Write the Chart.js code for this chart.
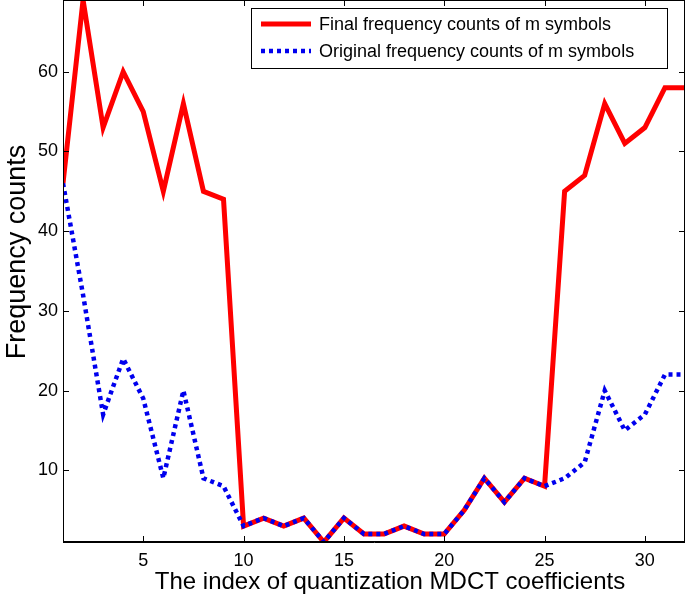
<!DOCTYPE html>
<html>
<head>
<meta charset="utf-8">
<script src="https://cdn.jsdelivr.net/npm/chart.js@4.4.0/dist/chart.umd.min.js"></script>
<style>
  html, body { margin: 0; padding: 0; background: #fff; }
  #wrap { width: 685px; height: 595px; }
</style>
</head>
<body>
<div id="wrap"><canvas id="chart" width="685" height="595"></canvas></div>
<script>
// ── Data ──────────────────────────────────────────────────────────────────────
const indices   = Array.from({ length: 32 }, (_, i) => i + 1);
const finalCounts    = [46, 69, 53, 60, 55, 45, 56, 45, 44, 3, 4, 3, 4, 1, 4, 2,
                        2, 3, 2, 2, 5, 9, 6, 9, 8, 45, 47, 56, 51, 53, 58, 58];
const originalCounts = [46, 32, 17, 24, 19, 9, 20, 9, 8, 3, 4, 3, 4, 1, 4, 2,
                        2, 3, 2, 2, 5, 9, 6, 9, 8, 9, 11, 20, 15, 17, 22, 22];
const xTicks = [5, 10, 15, 20, 25, 30];
const yTicks = [10, 20, 30, 40, 50, 60];
const xTitle = 'The index of quantization MDCT coefficients';
const yTitle = 'Frequency counts';

const FONT = '"Liberation Sans", Arial, Helvetica, sans-serif';

// MATLAB-style box: frame, inward ticks on all four sides, legend inside, axis titles
const matlabBox = {
  id: 'matlabBox',
  afterDraw(chart) {
    const { ctx, chartArea: a, scales: { x, y } } = chart;
    ctx.save();
    ctx.strokeStyle = '#000';
    ctx.lineWidth = 1;
    ctx.strokeRect(a.left + 0.5, a.top + 0.5, a.right - a.left - 1, a.bottom - a.top - 1);
    const len = 6;
    ctx.beginPath();
    xTicks.forEach(v => {
      const px = Math.round(x.getPixelForValue(v)) + 0.5;
      ctx.moveTo(px, a.bottom); ctx.lineTo(px, a.bottom - len);
      ctx.moveTo(px, a.top);    ctx.lineTo(px, a.top + len);
    });
    yTicks.forEach(v => {
      const py = Math.round(y.getPixelForValue(v)) + 0.5;
      ctx.moveTo(a.left, py);  ctx.lineTo(a.left + len, py);
      ctx.moveTo(a.right, py); ctx.lineTo(a.right - len, py);
    });
    ctx.stroke();

    // axis titles
    ctx.fillStyle = '#000';
    ctx.textAlign = 'center';
    ctx.textBaseline = 'alphabetic';
    ctx.font = '24px ' + FONT;
    ctx.fillText(xTitle, 390, 589);
    ctx.save();
    ctx.translate(25, 252);
    ctx.rotate(-Math.PI / 2);
    ctx.font = '27px ' + FONT;
    ctx.fillText(yTitle, 0, 0);
    ctx.restore();

    // legend
    ctx.textAlign = 'left';
    const bx = a.left + 188, by = a.top + 8, bw = 416, bh = 60;
    ctx.fillStyle = '#fff';
    ctx.fillRect(bx, by, bw, bh);
    ctx.strokeRect(bx + 0.5, by + 0.5, bw, bh);
    ctx.font = '18px ' + FONT;
    ctx.textBaseline = 'middle';
    const rows = [chart.data.datasets[1], chart.data.datasets[0]];
    rows.forEach((ds, i) => {
      const ry = by + 16 + i * 27;
      ctx.save();
      ctx.strokeStyle = ds.borderColor;
      ctx.lineWidth = ds.borderWidth;
      ctx.setLineDash(ds.borderDash || []);
      ctx.beginPath();
      ctx.moveTo(bx + 10, ry);
      ctx.lineTo(bx + 60, ry);
      ctx.stroke();
      ctx.restore();
      ctx.fillStyle = '#000';
      ctx.fillText(ds.label, bx + 68, ry + 1);
    });
    ctx.restore();
  },
};

new Chart(document.getElementById('chart'), {
  type: 'line',
  data: {
    labels: indices,
    datasets: [
      {
        label: 'Original frequency counts of m symbols',
        data: indices.map((v, i) => ({ x: v, y: originalCounts[i] })),
        borderColor: '#0000ee',
        borderWidth: 4.5,
        borderDash: [4, 4],
        pointRadius: 0,
        tension: 0,
        fill: false,
        order: 0,
      },
      {
        label: 'Final frequency counts of m symbols',
        data: indices.map((v, i) => ({ x: v, y: finalCounts[i] })),
        borderColor: '#ff0000',
        borderWidth: 5,
        pointRadius: 0,
        tension: 0,
        fill: false,
        order: 1,
      },
    ],
  },
  options: {
    responsive: false,
    animation: false,
    layout: { padding: 0 },
    plugins: { legend: { display: false }, tooltip: { enabled: false } },
    scales: {
      x: {
        type: 'linear',
        min: 1,
        max: 32,
        afterBuildTicks: s => { s.ticks = xTicks.map(v => ({ value: v })); },
        afterFit: s => { s.height = 53; s.paddingLeft = 0; s.paddingRight = 0; },
        grid: { display: false, drawTicks: false },
        border: { display: true, color: '#000', width: 1 },
        ticks: { color: '#000', padding: 8, maxRotation: 0, font: { family: FONT, size: 18 } },
        title: { display: false },
      },
      y: {
        type: 'linear',
        min: 1,
        max: 69,
        afterBuildTicks: s => { s.ticks = yTicks.map(v => ({ value: v })); },
        afterFit: s => { s.width = 63; s.paddingTop = 0; s.paddingBottom = 0; },
        grid: { display: false, drawTicks: false },
        border: { display: true, color: '#000', width: 1 },
        ticks: { color: '#000', padding: 5, font: { family: FONT, size: 18 } },
        title: { display: false },
      },
    },
  },
  plugins: [matlabBox],
});
</script>
</body>
</html>
